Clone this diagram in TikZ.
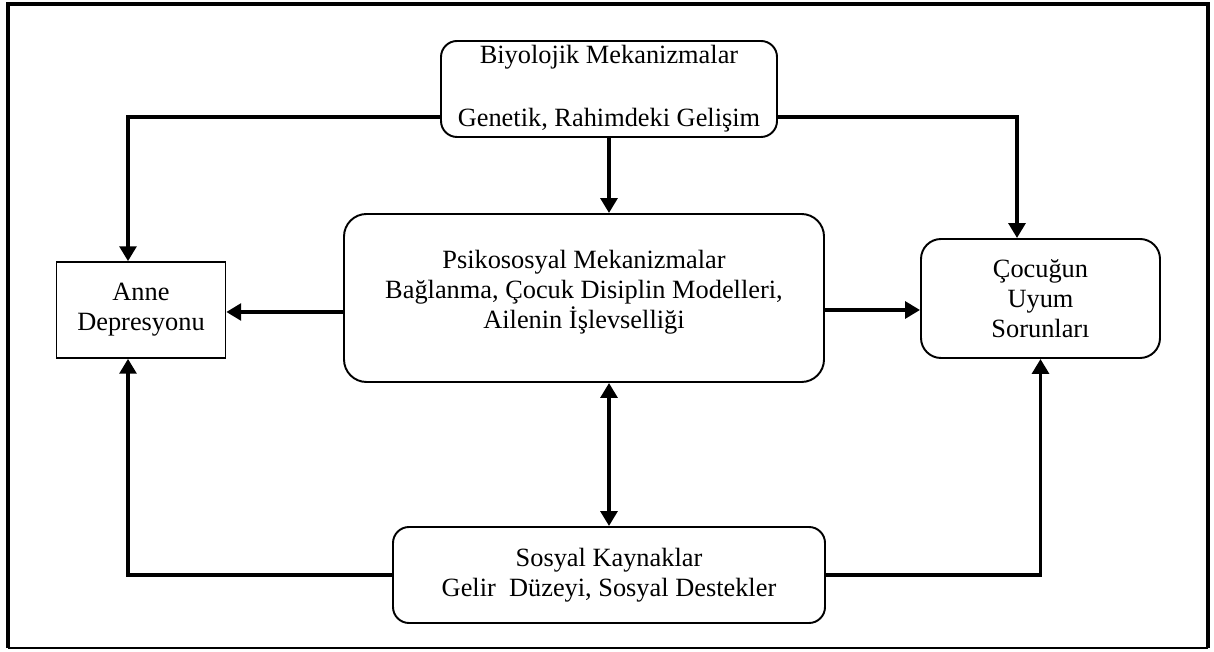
\documentclass[tikz,border=0pt]{standalone}
\usepackage{fontspec}
\setmainfont{Liberation Serif}
\usetikzlibrary{positioning, arrows.meta}

\tikzset{
	roundbox/.style={shape=rectangle, draw, line width=1.1pt, rounded corners=0.32cm, align=center, inner sep=2pt, font=\fontsize{15}{17}\selectfont},
	plainbox/.style={shape=rectangle, draw, line width=0.9pt, align=center, inner sep=2pt, font=\fontsize{15}{17}\selectfont},
	conn/.style={-{Triangle[length=8.5pt, width=9.5pt]}, line width=2.2pt},
}

\begin{document}
\begin{tikzpicture}
	\useasboundingbox (0, 0) rectangle (24.28, 13.02);
	% Frame:
	\draw[line width=2pt] (0.16, 0.06) -- (0.16, 12.94) -- (24.16, 12.94) -- (24.16, 0.06);
	\draw[line width=1.2pt] (0.16, 0.06) -- (24.16, 0.06);
	% Boxes:
	\node[roundbox, minimum width=6.72cm, minimum height=1.92cm] (bio) at (12.18, 11.24) {Biyolojik Mekanizmalar\\[19pt]Genetik, Rahimdeki Gelişim};
	\node[roundbox, rounded corners=0.45cm, minimum width=9.6cm, minimum height=3.36cm] (psy) at (11.68, 7.06) {Psikososyal Mekanizmalar\\Bağlanma, Çocuk Disiplin Modelleri,\\Ailenin İşlevselliği\\[-12pt]\strut};
	\node[plainbox, minimum width=3.38cm, minimum height=1.92cm] (anne) at (2.82, 6.82) {Anne\\Depresyonu};
	\node[roundbox, rounded corners=0.4cm, minimum width=4.78cm, minimum height=2.38cm] (child) at (20.81, 7.05) {Çocuğun\\Uyum\\Sorunları};
	\node[roundbox, minimum width=8.64cm, minimum height=1.92cm] (soc) at (12.18, 1.52) {Sosyal Kaynaklar\\Gelir~~Düzeyi, Sosyal Destekler};
	% Wires:
	\draw[conn] ([yshift=-0.56cm]bio.west) -| ([xshift=-0.26cm]anne.north);
	\draw[conn] ([yshift=-0.56cm]bio.east) -| ([xshift=-0.47cm]child.north);
	\draw[conn] (bio.south) -- (bio.south |- psy.north);
	\draw[conn] ([yshift=-0.28cm]psy.west) -- ([yshift=-0.04cm]anne.east);
	\draw[conn] ([yshift=-0.24cm]psy.east) -- ([yshift=-0.23cm]child.west);
	\draw[conn, {Triangle[length=8.5pt, width=9.5pt]}-{Triangle[length=8.5pt, width=9.5pt]}] (soc.north) -- (soc.north |- psy.south);
	\draw[conn] (soc.west) -| ([xshift=-0.26cm]anne.south);
	\draw[conn] (soc.east) -| (child.south);
\end{tikzpicture}
\end{document}
